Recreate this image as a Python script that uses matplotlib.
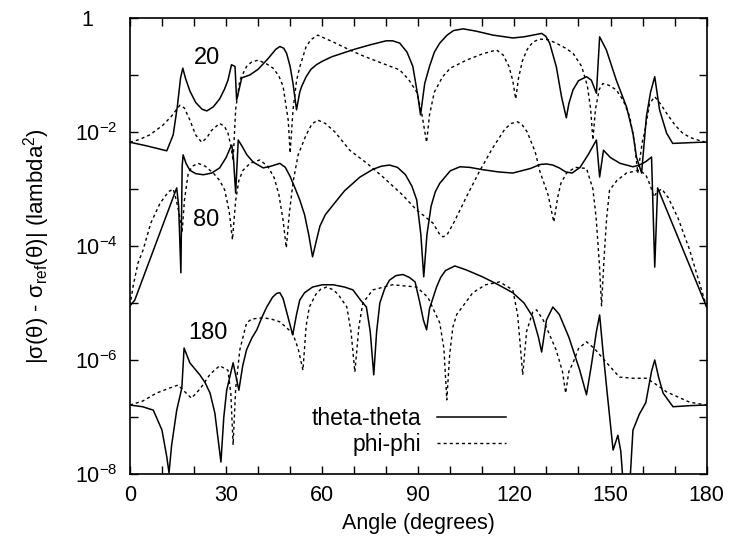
import numpy as np
import matplotlib
matplotlib.use('Agg')
import matplotlib.pyplot as plt
from matplotlib.ticker import FixedLocator, FuncFormatter

# log10 of |sigma - sigma_ref|, per series
t20_x = [0, 5, 11.5, 13.5, 14.8, 15.8, 16.5, 17.3, 18.7, 20.5, 22.5, 24, 26, 28, 29.5, 30.6,
         31.7, 32.8, 33.3, 34.9, 37.4, 40, 43, 45.5, 46.8, 48, 48.9, 50, 50.9, 52, 53, 53.6,
         55, 56.5, 58.2, 60, 63, 70, 75, 80, 82, 84.2, 86.5, 88.3, 89.9, 90.7, 92, 93.5, 95,
         96.7, 99, 101, 104, 108, 113.3, 119.5, 123, 125.8, 128.5, 129.8, 131, 133.1, 134.7,
         136.2, 137, 138.3, 140, 142.5, 144, 145.6, 146.6, 148.7, 151.8, 155, 157, 158.1,
         159.7, 161.2, 162.5, 163.8, 165.3, 167.5, 169.4, 177.8, 180]
t20_y = [-2.18, -2.24, -2.33, -2.05, -1.55, -1.05, -0.88, -1.05, -1.28, -1.48, -1.6, -1.63,
         -1.56, -1.42, -1.25, -1.09, -0.82, -0.85, -1.44, -1.05, -1.0, -0.9, -0.72, -0.55,
         -0.5, -0.53, -0.62, -0.85, -1.15, -1.61, -1.3, -1.2, -1.03, -0.9, -0.82, -0.76,
         -0.68, -0.55, -0.47, -0.4, -0.4, -0.44, -0.6, -0.85, -1.38, -1.7, -1.15, -0.85,
         -0.6, -0.44, -0.3, -0.22, -0.19, -0.23, -0.3, -0.35, -0.33, -0.3, -0.27, -0.32,
         -0.44, -0.86, -1.38, -1.75, -1.5, -1.26, -1.1, -1.03, -1.09, -1.32, -0.33, -0.56,
         -1.09, -1.56, -2.02, -2.44, -2.72, -1.73, -1.3, -1.03, -1.61, -2.02, -2.2, -2.18,
         -2.18]

p20_x = [0, 3, 6.2, 10.3, 13, 15.6, 17, 18.7, 20.5, 22.4, 24, 25.5, 28, 29.5, 30.6, 31.5,
         32.2, 33, 34.3, 36.4, 38, 40, 42.5, 44.7, 46.5, 47.8, 49.4, 50, 50.9, 52, 53, 55,
         56.5, 58.6, 61, 63.4, 68.6, 73, 79, 84.2, 87, 89.5, 91, 92.6, 93.5, 95, 97.6, 100,
         105, 110, 114.4, 116.5, 118.3, 119.5, 120.4, 121.3, 122.5, 124, 125.8, 127.9, 130.5,
         133, 136, 138.3, 141, 142.8, 143.8, 144.5, 145.3, 146.5, 147.6, 149.5, 151.8, 154,
         156, 157.5, 158.5, 160, 160.6, 162.2, 163.8, 165.5, 167.5, 170, 172.5, 175, 177.8,
         180]
p20_y = [-2.18, -2.13, -2.05, -1.88, -1.72, -1.53, -1.58, -1.79, -2.05, -2.18, -2.1, -1.97,
         -1.85, -1.9, -2.02, -2.25, -2.5, -1.6, -1.09, -0.85, -0.77, -0.74, -0.8, -0.88,
         -1.02, -1.2, -1.79, -2.37, -1.61, -1.1, -0.86, -0.5, -0.38, -0.3, -0.36, -0.42,
         -0.56, -0.67, -0.8, -0.91, -1.08, -1.3, -1.65, -2.18, -1.7, -1.3, -1.03, -0.88,
         -0.74, -0.63, -0.56, -0.65, -0.85, -1.1, -1.42, -1.05, -0.75, -0.55, -0.42, -0.37,
         -0.38, -0.44, -0.53, -0.62, -0.85, -1.2, -1.6, -2.14, -1.6, -1.25, -1.15, -1.18,
         -1.26, -1.45, -1.73, -2.2, -2.72, -2.15, -2.02, -1.5, -1.38, -1.5, -1.67, -1.87,
         -2.02, -2.1, -2.15, -2.18]

t80_x = [0, 1.5, 14.6, 15.2, 15.9, 16.3, 16.6, 17.5, 18.7, 20.5, 22.9, 25.5, 28, 30, 31.3,
         31.8, 32.3, 33, 33.8, 35, 36.5, 38.5, 41.6, 44, 46.8, 48.5, 50, 51.5, 53, 54.5, 55.8,
         57, 58, 59.3, 61, 63.4, 67, 71.8, 76, 78.5, 81, 83.5, 86, 88, 89.5, 90.8, 91.7, 92.7,
         94, 95.3, 96.7, 100, 103, 106, 110, 115, 119.5, 125, 128, 130, 132, 134, 136, 138,
         140.5, 143, 145.6, 146.6, 147.8, 150, 153, 157, 159, 161, 162.8, 163.8, 164.7, 180]
t80_y = [-5.05, -4.95, -2.98, -3.3, -4.47, -2.6, -2.4, -2.55, -2.67, -2.73, -2.75, -2.72,
         -2.63, -2.45, -2.28, -2.23, -2.45, -3.07, -2.14, -2.25, -2.4, -2.53, -2.63, -2.6,
         -2.55, -2.62, -2.78, -2.98, -3.19, -3.45, -3.8, -4.19, -3.95, -3.65, -3.45, -3.28,
         -3.03, -2.79, -2.65, -2.6, -2.58, -2.62, -2.75, -2.95, -3.19, -3.8, -4.54, -3.8,
         -3.3, -3.05, -2.9, -2.68, -2.61, -2.62, -2.66, -2.7, -2.72, -2.64, -2.57, -2.56,
         -2.58, -2.63, -2.7, -2.72, -2.62, -2.4, -2.14, -2.79, -2.32, -2.45, -2.55, -2.61,
         -2.58, -2.52, -2.44, -4.37, -2.98, -5.07]

p80_x = [0, 1, 2.5, 4.1, 6.5, 9.4, 12, 13.5, 14.5, 15.6, 16.3, 17, 18.2, 19.5, 21.3, 23.5,
         26, 28, 29.6, 31, 32, 33, 34, 35.3, 37.5, 40.5, 43, 45, 46.5, 47.8, 48.8, 49.8, 51,
         52.5, 55, 56.8, 58.6, 61, 64, 68.6, 74, 79, 85, 89.5, 92, 94.6, 96.5, 97.7, 99, 101,
         105, 109, 113, 117, 119, 121, 122.5, 124, 126.5, 128, 130.5, 132.3, 133.5, 134.5,
         136.3, 139, 142.5, 144.5, 145.5, 146.5, 147.2, 148, 148.8, 149.7, 152, 155, 159,
         161, 162.5, 163.5, 164.5, 166, 168, 171, 174.7, 177.5, 180]
p80_y = [-5.05, -4.7, -4.3, -4.07, -3.6, -3.25, -3.05, -3.0, -3.2, -3.5, -3.75, -3.2, -2.72,
         -2.6, -2.55, -2.6, -2.72, -2.85, -3.02, -3.4, -3.89, -3.2, -2.85, -2.67, -2.55,
         -2.49, -2.6, -2.8, -3.1, -3.55, -4.03, -3.4, -2.85, -2.4, -2.05, -1.86, -1.79,
         -1.85, -2.0, -2.32, -2.55, -2.79, -3.1, -3.37, -3.48, -3.6, -3.78, -3.84, -3.8,
         -3.6, -3.14, -2.7, -2.3, -1.95, -1.85, -1.82, -1.88, -2.0, -2.35, -2.7, -3.1, -3.58,
         -3.15, -2.9, -2.72, -2.62, -2.64, -3.0, -3.5, -4.3, -5.05, -4.2, -3.5, -3.02, -2.85,
         -2.72, -2.67, -2.75, -2.95, -3.14, -3.05, -3.0, -3.15, -3.5, -4.07, -4.6, -5.07]

t180_x = [0, 4, 7.3, 10, 11.5, 12.2, 13, 14.6, 16.2, 16.9, 18.7, 21.8, 23.5, 25, 26.5, 28.4,
          29.3, 30.2, 32.2, 34, 35.2, 36.4, 38, 39.6, 41.2, 42.7, 44.5, 45.8, 46.8, 47.8,
          49.3, 50.8, 52, 53, 54.5, 57, 60, 63.4, 67, 69.6, 72, 73.8, 75, 76.1, 77, 78, 79.5,
          81, 83, 85.2, 87.2, 89, 90.5, 91.6, 92.6, 93.5, 95.7, 97, 98.5, 101.4, 105, 110,
          115, 119.5, 123, 125.7, 127.5, 128.5, 130, 132, 134, 137, 140.4, 142.5, 144, 145.6,
          146.6, 147.6, 149, 150.8, 152.3, 153.2, 154, 155, 156, 157, 159, 161, 162.8, 163.8,
          165, 166.4, 169.5, 175, 180]
t180_y = [-6.79, -6.82, -6.88, -7.23, -7.7, -7.98, -7.5, -6.88, -6.49, -5.79, -6.05, -6.26,
          -6.4, -6.58, -6.93, -7.79, -7.0, -6.53, -6.05, -6.53, -6.1, -5.82, -5.62, -5.47,
          -5.25, -5.07, -4.9, -4.83, -4.82, -4.92, -5.24, -5.56, -5.2, -4.95, -4.82, -4.72,
          -4.68, -4.68, -4.72, -4.77, -4.95, -5.07, -5.5, -6.26, -5.5, -5.0, -4.75, -4.6,
          -4.52, -4.5, -4.55, -4.63, -5.0, -5.3, -5.47, -5.1, -4.72, -4.55, -4.43, -4.35,
          -4.42, -4.54, -4.68, -4.82, -5.0, -5.24, -5.6, -5.86, -5.3, -5.07, -5.2, -5.6,
          -6.18, -6.61, -6.1, -5.5, -5.21, -5.82, -6.6, -7.58, -7.32, -7.6, -8.2, -9.0, -8.2,
          -7.23, -6.95, -6.75, -6.2, -6.0, -6.3, -6.58, -6.82, -6.8, -6.79]

p180_x = [0, 4, 8.3, 12, 15, 17, 19.2, 22, 25, 28, 30.6, 31.5, 32.2, 33, 34.3, 36.4, 38,
          41.6, 44, 46.8, 50.8, 52.5, 54, 55, 56, 58, 59.5, 61.4, 63.5, 65, 67.7, 69, 70.2,
          71.5, 72.7, 75.8, 82, 89.5, 93, 96.7, 98, 98.9, 99.8, 100.8, 102, 104, 107, 111,
          115.4, 119.5, 121, 122.6, 123.8, 125.7, 126.9, 129, 133, 135, 136, 137, 138.3, 140,
          142.5, 145, 148.8, 152.8, 157, 161.2, 164, 167.5, 174.7, 180]
p180_y = [-6.79, -6.72, -6.58, -6.5, -6.44, -6.55, -6.67, -6.5, -6.25, -6.1, -6.18, -6.6,
          -7.49, -6.5, -5.82, -5.35, -5.28, -5.26, -5.28, -5.33, -5.53, -5.8, -6.18, -5.4,
          -5.07, -4.85, -4.76, -4.72, -4.77, -4.85, -5.07, -5.5, -6.21, -5.4, -5.0, -4.77,
          -4.68, -4.72, -4.9, -5.35, -5.8, -6.7, -5.9, -5.42, -5.2, -5.05, -4.82, -4.68,
          -4.63, -4.77, -5.2, -6.26, -5.5, -5.16, -5.12, -5.3, -5.82, -6.2, -6.58, -6.2,
          -6.05, -5.8, -5.68, -5.8, -6.05, -6.3, -6.32, -6.32, -6.42, -6.56, -6.74, -6.79]

curve_labels = ['20', '80', '180']
label_x = [23.9, 23.7, 24.3]
label_y = [-0.70, -3.54, -5.53]

plt.rcParams['font.family'] = ['Liberation Sans', 'DejaVu Sans']
plt.rcParams['mathtext.fontset'] = 'custom'
plt.rcParams['mathtext.rm'] = 'Liberation Sans'
plt.rcParams['mathtext.it'] = 'Liberation Sans'
plt.rcParams['mathtext.bf'] = 'Liberation Sans:bold'

fig = plt.figure(figsize=(7.3, 5.49), dpi=100)
ax = fig.add_axes([0.178, 0.1366, 0.79, 0.8306])

solid = dict(color='black', lw=1.1, ls='-')
dashed = dict(color='black', lw=1.0, ls=(0, (2.2, 2.2)))

ax.plot(t20_x, 10 ** np.array(t20_y), label='theta-theta', **solid)
ax.plot(p20_x, 10 ** np.array(p20_y), label='phi-phi', **dashed)
ax.plot(t80_x, 10 ** np.array(t80_y), **solid)
ax.plot(p80_x, 10 ** np.array(p80_y), **dashed)
ax.plot(t180_x, 10 ** np.array(t180_y), **solid)
ax.plot(p180_x, 10 ** np.array(p180_y), **dashed)

for txt, lx, ly in zip(curve_labels, label_x, label_y):
    ax.text(lx, 10 ** ly, txt, fontsize=17, ha='center', va='center')

ax.set_yscale('log')
ax.set_xlim(0, 180)
ax.set_ylim(1e-8, 1)

ax.xaxis.set_major_locator(FixedLocator(np.arange(0, 181, 10)))
ax.xaxis.set_major_formatter(FuncFormatter(lambda v, p: '%d' % v if v % 30 == 0 else ''))
ax.yaxis.set_major_locator(FixedLocator([10.0 ** k for k in range(-8, 1)]))
ax.yaxis.set_minor_locator(FixedLocator([]))


def ylab(v, p):
    k = int(round(np.log10(v)))
    if k == 0:
        return '1    '  # gnuplot leaves the "1" further left
    if k % 2:
        return ''
    return r'$10^{%d}$' % k


ax.yaxis.set_major_formatter(FuncFormatter(ylab))
ax.tick_params(which='both', direction='in', top=True, right=True, length=6, width=1,
               labelsize=15.5)
ax.tick_params(axis='y', pad=9)
ax.tick_params(axis='x', pad=8)
for s in ax.spines.values():
    s.set_linewidth(1.2)

ax.set_xlabel('Angle (degrees)', fontsize=15.5, labelpad=5)
ax.set_ylabel(r'$|\sigma(\theta)$ - $\sigma_{\rm ref}(\theta)|$ (lambda$^2$)', fontsize=16,
              labelpad=16)

ax.legend(loc='lower right', bbox_to_anchor=(0.668, 0.02), frameon=False, markerfirst=False,
          fontsize=16.5, handlelength=3.0, labelspacing=0.1, handletextpad=0.7,
          borderaxespad=0)

fig.savefig('out.png', dpi=100)
